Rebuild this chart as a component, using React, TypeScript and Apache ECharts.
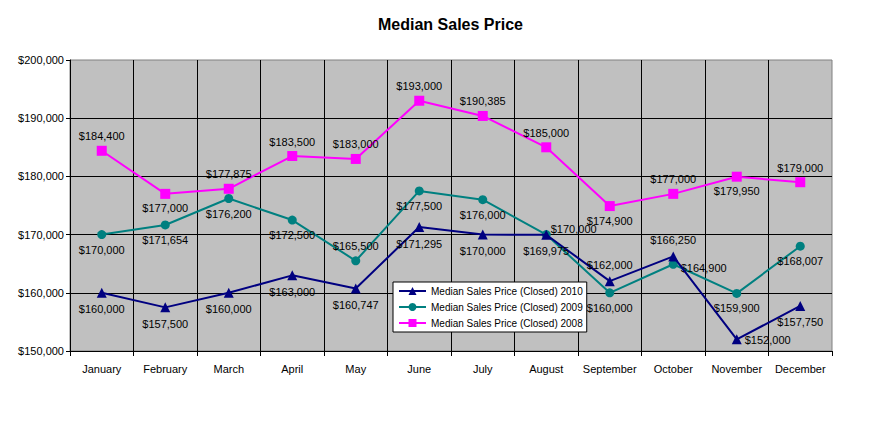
import React, { useEffect, useRef } from "react";
import * as echarts from "echarts";

const months = ["January","February","March","April","May","June","July","August","September","October","November","December"];
const sales2010 = [160000,157500,160000,163000,160747,171295,170000,169975,162000,166250,152000,157750];
const sales2009 = [170000,171654,176200,172500,165500,177500,176000,170000,160000,164900,159900,168007];
const sales2008 = [184400,177000,177875,183500,183000,193000,190385,185000,174900,177000,179950,179000];

const pos2010 = ["bottom","bottom","bottom","bottom","bottom","bottom","bottom","bottom","top","top","right","bottom"];
const pos2009 = ["bottom","bottom","bottom","bottom","top","bottom","bottom","right-up","bottom","right-down","bottom","bottom"];
const pos2008 = ["top","bottom","top","top","top","top","top","top","bottom","top","bottom","top"];

const fmt = (v: number) => "$" + String(v).replace(/\B(?=(\d{3})+(?!\d))/g, ",");
const FONT = "'Liberation Sans', Arial, sans-serif";

function buildData(values: number[], positions: string[]) {
  return values.map((v, i) => {
    const p = positions[i];
    let label: any = { position: p };
    if (p === "right") label = { position: "right", distance: 3, offset: [0, 1] };
    if (p === "right-up") label = { position: "right", distance: 0, offset: [0, -6] };
    if (p === "right-down") label = { position: "right", distance: 3, offset: [0, 4] };
    return { value: v, label };
  });
}

export default function App() {
  const ref = useRef<HTMLDivElement>(null);
  useEffect(() => {
    if (!ref.current) return;
    const chart = echarts.init(ref.current, null, { renderer: "svg" });
    const labelCommon = {
      show: true,
      formatter: (p: any) => fmt(p.value),
      color: "#000",
      fontSize: 11,
      fontFamily: FONT,
    };
    chart.setOption({
      animation: false,
      backgroundColor: "#fff",
      textStyle: { fontFamily: FONT },
      title: {
        text: "Median Sales Price",
        left: 373,
        top: 11,
        textStyle: { fontSize: 16, fontWeight: "bold", color: "#000", fontFamily: FONT },
      },
      legend: {
        orient: "vertical",
        left: 393,
        top: 282,
        backgroundColor: "#fff",
        borderColor: "#000",
        borderWidth: 1,
        padding: [4, 4, 4, 5],
        itemGap: 6,
        itemWidth: 27,
        itemHeight: 10,
        textStyle: { fontSize: 10, color: "#000", fontFamily: FONT },
        data: ["Median Sales Price (Closed) 2010", "Median Sales Price (Closed) 2009", "Median Sales Price (Closed) 2008"],
      },
      grid: {
        left: 70,
        right: 55,
        top: 60,
        bottom: 86,
        show: true,
        backgroundColor: "#C0C0C0",
        borderColor: "#808080",
        borderWidth: 1,
      },
      xAxis: {
        type: "category",
        data: months,
        boundaryGap: true,
        axisLine: { lineStyle: { color: "#000", width: 1 } },
        axisTick: { show: true, length: 5, lineStyle: { color: "#000" } },
        axisLabel: { color: "#000", fontSize: 11, fontFamily: FONT, margin: 12, interval: 0 },
        splitLine: { show: true, showMinLine: false, showMaxLine: false, lineStyle: { color: "#000", width: 1 } },
      },
      yAxis: {
        type: "value",
        min: 150000,
        max: 200000,
        interval: 10000,
        axisLine: { show: true, lineStyle: { color: "#000", width: 1 } },
        axisTick: { show: true, length: 4, lineStyle: { color: "#000" } },
        axisLabel: { color: "#000", fontSize: 11, fontFamily: FONT, margin: 6, formatter: (v: number) => fmt(v) },
        splitLine: { show: true, showMinLine: false, showMaxLine: false, lineStyle: { color: "#000", width: 1 } },
      },
      series: [
        {
          name: "Median Sales Price (Closed) 2010",
          type: "line",
          data: buildData(sales2010, pos2010),
          symbol: "triangle",
          symbolSize: 10,
          color: "#000080",
          lineStyle: { color: "#000080", width: 2 },
          itemStyle: { color: "#000080" },
          label: { ...labelCommon, distance: 6 },
          z: 4,
        },
        {
          name: "Median Sales Price (Closed) 2009",
          type: "line",
          data: buildData(sales2009, pos2009),
          symbol: "circle",
          symbolSize: 9,
          color: "#008080",
          lineStyle: { color: "#008080", width: 2 },
          itemStyle: { color: "#008080" },
          label: { ...labelCommon, distance: 5 },
          z: 3,
        },
        {
          name: "Median Sales Price (Closed) 2008",
          type: "line",
          data: buildData(sales2008, pos2008),
          symbol: "rect",
          symbolSize: 10,
          color: "#FF00FF",
          lineStyle: { color: "#FF00FF", width: 2 },
          itemStyle: { color: "#FF00FF" },
          label: { ...labelCommon, distance: 4 },
          z: 2,
        },
      ],
    });
    return () => chart.dispose();
  }, []);
  return <div ref={ref} style={{ position: "fixed", left: 0, top: 0, width: 887, height: 437 }} />;
}
